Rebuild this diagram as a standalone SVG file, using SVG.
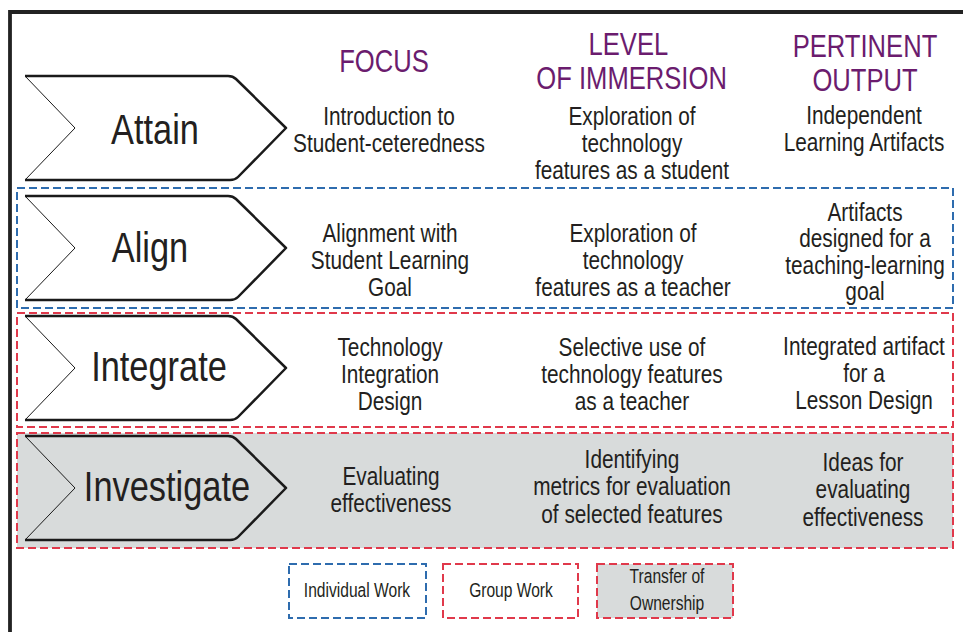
<svg xmlns="http://www.w3.org/2000/svg" width="963" height="632" viewBox="0 0 963 632">
  <style>
    .txt { font-family: "Liberation Sans", Arial, sans-serif; fill: #231f20; text-anchor: middle; }
    .body { font-size: 26px; }
    .head { font-size: 32px; fill: #6b1c6e; }
    .stage { font-size: 43px; }
    .leg { font-size: 19.5px; }
    .chev { fill: #ffffff; stroke: #1a1a1a; stroke-width: 2.5; stroke-linejoin: round; }
    .chev.gray { fill: #d8dbdb; }
    .notch { fill: none; stroke: #1a1a1a; stroke-width: 1; }
    .blue { fill: none; stroke: #2e6cae; stroke-width: 2; stroke-dasharray: 8 4; }
    .red { fill: none; stroke: #e0394b; stroke-width: 2; stroke-dasharray: 8 4; }
    .grayfill { fill: #d8dbdb; }
  </style>
  <defs>
    <path id="chevShape" d="M25,0 H228 Q233,0 236,3 L286,52 L238,101 Q235,104 230,104 H25"/>
    <path id="notchShape" d="M25,0 L75,52 L25,104"/>
  </defs>

  <rect x="0" y="0" width="963" height="632" fill="#ffffff"/>

  <!-- outer frame -->
  <g id="frame">
    <path d="M10,640 V12 H970" fill="none" stroke="#222222" stroke-width="3.8"/>
  </g>

  <!-- column headers -->
  <g id="headers">
    <text class="txt head" transform="translate(384,0) scale(0.8,1)"><tspan x="0" y="72">FOCUS</tspan></text>
    <text class="txt head" transform="translate(630,0) scale(0.8,1)"><tspan x="-2" y="55">LEVEL</tspan><tspan x="2" y="89">OF IMMERSION</tspan></text>
    <text class="txt head" transform="translate(865,0) scale(0.8,1)"><tspan x="0" y="57">PERTINENT</tspan><tspan x="0" y="91">OUTPUT</tspan></text>
  </g>

  <!-- row backgrounds / group boxes -->
  <g id="row-boxes">
    <rect class="blue" x="17" y="188" width="936" height="120"/>
    <rect class="red" x="17" y="313" width="936" height="114"/>
    <rect class="grayfill" x="17" y="433" width="936" height="115"/>
    <rect class="red" x="17" y="433" width="936" height="115"/>
  </g>

  <!-- Stage: Attain -->
  <g id="attain">
    <use href="#chevShape" class="chev" transform="translate(0,76)"/>
    <use href="#notchShape" class="notch" transform="translate(0,76)"/>
    <text class="txt stage" transform="translate(155,0) scale(0.8,1)"><tspan x="0" y="144">Attain</tspan></text>
    <text class="txt body" transform="translate(389,0) scale(0.8,1)"><tspan x="0" y="125">Introduction to</tspan><tspan x="0" y="152">Student-ceteredness</tspan></text>
    <text class="txt body" transform="translate(632,0) scale(0.8,1)"><tspan x="0" y="125">Exploration of</tspan><tspan x="0" y="152">technology</tspan><tspan x="0" y="179">features as a student</tspan></text>
    <text class="txt body" transform="translate(864,0) scale(0.8,1)"><tspan x="0" y="124">Independent</tspan><tspan x="0" y="151">Learning Artifacts</tspan></text>
  </g>

  <!-- Stage: Align -->
  <g id="align">
    <use href="#chevShape" class="chev" transform="translate(0,196)"/>
    <use href="#notchShape" class="notch" transform="translate(0,196)"/>
    <text class="txt stage" transform="translate(150,0) scale(0.8,1)"><tspan x="0" y="262">Align</tspan></text>
    <text class="txt body" transform="translate(390,0) scale(0.8,1)"><tspan x="0" y="242">Alignment with</tspan><tspan x="0" y="269">Student Learning</tspan><tspan x="0" y="296">Goal</tspan></text>
    <text class="txt body" transform="translate(633,0) scale(0.8,1)"><tspan x="0" y="242">Exploration of</tspan><tspan x="0" y="269">technology</tspan><tspan x="0" y="296">features as a teacher</tspan></text>
    <text class="txt body" transform="translate(865,0) scale(0.8,1)"><tspan x="0" y="221">Artifacts</tspan><tspan x="0" y="247">designed for a</tspan><tspan x="0" y="274">teaching-learning</tspan><tspan x="0" y="300">goal</tspan></text>
  </g>

  <!-- Stage: Integrate -->
  <g id="integrate">
    <use href="#chevShape" class="chev" transform="translate(0,316)"/>
    <use href="#notchShape" class="notch" transform="translate(0,316)"/>
    <text class="txt stage" transform="translate(159,0) scale(0.8,1)"><tspan x="0" y="381">Integrate</tspan></text>
    <text class="txt body" transform="translate(390,0) scale(0.8,1)"><tspan x="0" y="356">Technology</tspan><tspan x="0" y="383">Integration</tspan><tspan x="0" y="410">Design</tspan></text>
    <text class="txt body" transform="translate(632,0) scale(0.8,1)"><tspan x="0" y="356">Selective use of</tspan><tspan x="0" y="383">technology features</tspan><tspan x="0" y="410">as a teacher</tspan></text>
    <text class="txt body" transform="translate(864,0) scale(0.8,1)"><tspan x="0" y="355">Integrated artifact</tspan><tspan x="0" y="382">for a</tspan><tspan x="0" y="409">Lesson Design</tspan></text>
  </g>

  <!-- Stage: Investigate -->
  <g id="investigate">
    <use href="#chevShape" class="chev gray" transform="translate(0,436)"/>
    <use href="#notchShape" class="notch" transform="translate(0,436)"/>
    <text class="txt stage" transform="translate(167,0) scale(0.8,1)"><tspan x="0" y="501">Investigate</tspan></text>
    <text class="txt body" transform="translate(391,0) scale(0.8,1)"><tspan x="0" y="485">Evaluating</tspan><tspan x="0" y="512">effectiveness</tspan></text>
    <text class="txt body" transform="translate(632,0) scale(0.8,1)"><tspan x="0" y="468">Identifying</tspan><tspan x="0" y="495">metrics for evaluation</tspan><tspan x="0" y="523">of selected features</tspan></text>
    <text class="txt body" transform="translate(863,0) scale(0.8,1)"><tspan x="0" y="471">Ideas for</tspan><tspan x="0" y="498">evaluating</tspan><tspan x="0" y="526">effectiveness</tspan></text>
  </g>

  <g id="connectors"></g>

  <!-- Legend -->
  <g id="legend-individual">
    <rect class="blue" x="289" y="564" width="137" height="54"/>
    <text class="txt leg" transform="translate(357,0) scale(0.8,1)"><tspan x="0" y="597">Individual Work</tspan></text>
  </g>
  <g id="legend-group">
    <rect class="red" x="443" y="564" width="135" height="54"/>
    <text class="txt leg" transform="translate(511,0) scale(0.8,1)"><tspan x="0" y="597">Group Work</tspan></text>
  </g>
  <g id="legend-transfer">
    <rect class="grayfill" x="597" y="564" width="136" height="54"/>
    <rect class="red" x="597" y="564" width="136" height="54"/>
    <text class="txt leg" transform="translate(667,0) scale(0.8,1)"><tspan x="0" y="583">Transfer of</tspan><tspan x="0" y="610">Ownership</tspan></text>
  </g>
</svg>
